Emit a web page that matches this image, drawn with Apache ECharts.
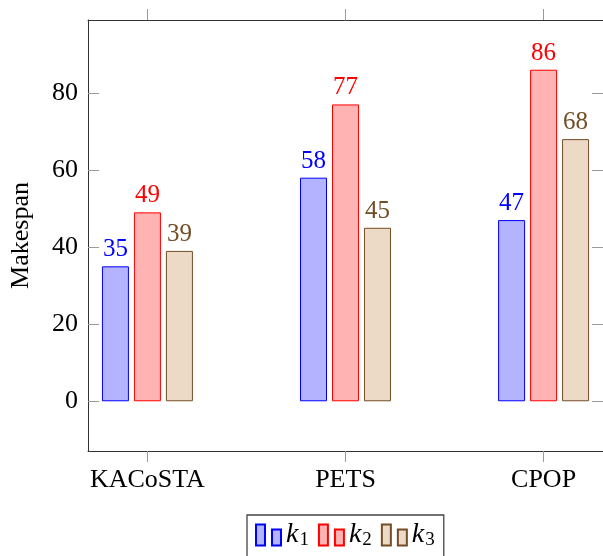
<!DOCTYPE html>
<html>
<head>
<meta charset="utf-8">
<script src="https://cdn.jsdelivr.net/npm/echarts@6/dist/echarts.min.js"></script>
<style>
  html, body { margin: 0; padding: 0; background: #fff; }
  #chart { width: 603px; height: 556px; }
</style>
</head>
<body>
<div id="chart"></div>
<script>
// Makespan per algorithm for three values of k
const categories = ['KACoSTA', 'PETS', 'CPOP'];
const k1 = [35, 58, 47];
const k2 = [49, 77, 86];
const k3 = [39, 45, 68];
const seriesNames = ['k1', 'k2', 'k3'];
const yTicks = [0, 20, 40, 60, 80];

const FONT = '"Liberation Serif", "Times New Roman", serif';
const lineColors = ['#0000ff', '#ff0000', '#734d26'];
const fillColors = ['#b3b3ff', '#ffb3b3', '#ecd9c6'];
const AXIS = '#333333';
const TICK = '#9a9a9a';

const chart = echarts.init(document.getElementById('chart'), null, { renderer: 'canvas' });

function barSeries(name, values, idx) {
  return {
    name: name,
    type: 'bar',
    xAxisIndex: 0,
    yAxisIndex: 0,
    barWidth: 27,
    barGap: '18.5%',
    data: values.map((v, i) => [i, v]),
    itemStyle: {
      color: fillColors[idx],
      borderColor: lineColors[idx],
      borderWidth: 1
    },
    label: {
      show: true,
      position: 'top',
      distance: 4,
      color: lineColors[idx],
      fontFamily: FONT,
      fontSize: 25,
      formatter: p => String(p.value[1])
    },
    emphasis: { disabled: true }
  };
}

const xBase = {
  type: 'value',
  min: -0.3,
  max: 2.3,
  splitLine: { show: false },
  axisLine: { show: true, onZero: false, lineStyle: { color: AXIS, width: 1 } }
};

const yBase = {
  type: 'value',
  min: -12.9,
  max: 98.9,
  splitLine: { show: false },
  axisLine: { show: true, onZero: false, lineStyle: { color: AXIS, width: 1 } }
};

chart.setOption({
  animation: false,
  backgroundColor: '#ffffff',
  grid: { left: 88, top: 20, width: 519, height: 431, containLabel: false },
  xAxis: [
    Object.assign({}, xBase, {
      position: 'bottom',
      axisTick: { show: true, inside: false, length: 11, customValues: [0, 1, 2], lineStyle: { color: TICK } },
      axisLabel: {
        show: true,
        customValues: [0, 1, 2],
        margin: 16,
        color: '#000',
        fontFamily: FONT,
        fontSize: 26,
        formatter: v => categories[Math.round(v)]
      }
    }),
    Object.assign({}, xBase, {
      position: 'top',
      axisTick: { show: true, inside: false, length: 11, customValues: [0, 1, 2], lineStyle: { color: TICK } },
      axisLabel: { show: false }
    })
  ],
  yAxis: [
    Object.assign({}, yBase, {
      position: 'left',
      name: 'Makespan',
      nameLocation: 'middle',
      nameGap: 54,
      nameRotate: 90,
      nameTextStyle: { color: '#000', fontFamily: FONT, fontSize: 26 },
      axisTick: { show: true, inside: true, length: 11, customValues: yTicks, lineStyle: { color: TICK } },
      axisLabel: {
        show: true,
        customValues: yTicks,
        margin: 10,
        color: '#000',
        fontFamily: FONT,
        fontSize: 26
      }
    }),
    Object.assign({}, yBase, {
      position: 'right',
      axisTick: { show: true, inside: true, length: 11, customValues: yTicks, lineStyle: { color: TICK } },
      axisLabel: { show: false }
    })
  ],
  legend: {
    data: seriesNames,
    left: 247,
    top: 515,
    orient: 'horizontal',
    padding: [6, 9, 24, 8],
    itemGap: 9,
    itemWidth: 25,
    itemHeight: 21,
    borderColor: '#444',
    borderWidth: 1.3,
    borderRadius: 0,
    icon: 'path://M0,0H9V21H0Z M16,5H25V21H16Z',
    selectedMode: false,
    formatter: name => '{k|k}{s|' + name.slice(1) + '}',
    textStyle: {
      padding: [0, 0, 0, 0],
      rich: {
        k: { fontFamily: FONT, fontStyle: 'italic', fontSize: 28, color: '#000', lineHeight: 30, verticalAlign: 'middle' },
        s: { fontFamily: FONT, fontSize: 19, color: '#000', lineHeight: 16, verticalAlign: 'bottom', padding: [0, 0, 0, 1] }
      }
    }
  },
  series: [
    barSeries(seriesNames[0], k1, 0),
    barSeries(seriesNames[1], k2, 1),
    barSeries(seriesNames[2], k3, 2)
  ]
});
</script>
</body>
</html>
